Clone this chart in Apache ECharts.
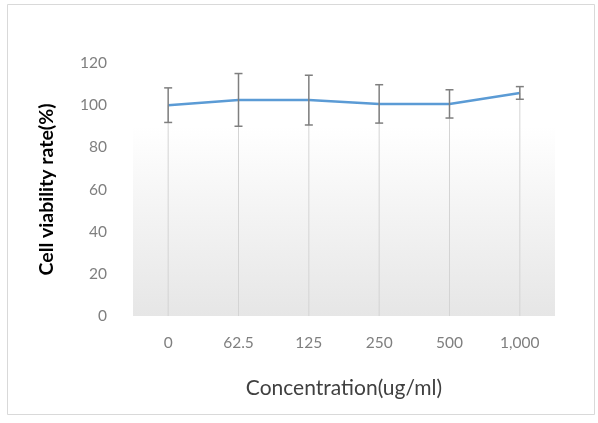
<!DOCTYPE html>
<html>
<head>
<meta charset="utf-8">
<script src="https://cdn.jsdelivr.net/npm/echarts@6/dist/echarts.min.js"></script>
<style>
html,body{margin:0;padding:0;background:#fff;}
#c{width:598px;height:423px;}
</style>
</head>
<body>
<div id="c"></div>
<script>
const categories = ['0', '62.5', '125', '250', '500', '1,000'];
const viability = [100.0, 102.5, 102.4, 100.6, 100.6, 105.8];
const errorSD = [8.2, 12.5, 11.8, 9.1, 6.7, 3.0];
const yTicks = [0, 20, 40, 60, 80, 100, 120];

const chart = echarts.init(document.getElementById('c'));
const font = 'Lato, "Open Sans", sans-serif';

const errData = categories.map((c, i) => [i, viability[i] - errorSD[i], viability[i] + errorSD[i]]);
const dropData = categories.map((c, i) => [i, viability[i]]);

chart.setOption({
  animation: false,
  backgroundColor: '#fff',
  graphic: [{
    type: 'rect', left: 5, top: 2, shape: { width: 587, height: 410 },
    style: { fill: 'none', stroke: '#d9d9d9', lineWidth: 1 }, z: -1
  }],
  grid: {
    left: 133, right: 43, top: 63, bottom: 107,
    show: true, borderWidth: 0,
    backgroundColor: new echarts.graphic.LinearGradient(0, 0, 0, 1, [
      { offset: 0, color: '#ffffff' },
      { offset: 0.25, color: '#ffffff' },
      { offset: 1, color: '#e6e6e6' }
    ])
  },
  xAxis: {
    type: 'category',
    data: categories,
    boundaryGap: true,
    axisLine: { show: false },
    axisTick: { show: false },
    axisLabel: { color: '#7f7f7f', fontSize: 15.5, fontFamily: font, margin: 19 },
    name: 'Concentration(ug/ml)',
    nameLocation: 'middle',
    nameGap: 62,
    nameTextStyle: { color: '#404040', fontSize: 21, fontFamily: font }
  },
  yAxis: {
    type: 'value',
    min: yTicks[0], max: yTicks[yTicks.length - 1], interval: 20,
    splitLine: { show: false },
    axisLine: { show: false },
    axisTick: { show: false },
    axisLabel: { color: '#7f7f7f', fontSize: 15.5, fontFamily: font, margin: 26 },
    name: 'Cell viability rate(%)',
    nameLocation: 'middle',
    nameGap: 76,
    nameTextStyle: { color: '#000', fontSize: 19.5, fontWeight: 'bold', fontFamily: font }
  },
  series: [
    {
      type: 'custom',
      data: dropData,
      z: 1,
      renderItem: function (params, api) {
        const top = api.coord([api.value(0), api.value(1)]);
        const bot = api.coord([api.value(0), 0]);
        return {
          type: 'line',
          shape: { x1: top[0], y1: top[1], x2: bot[0], y2: bot[1] },
          style: { stroke: '#d4d4d4', lineWidth: 1 }
        };
      }
    },
    {
      type: 'line',
      data: viability,
      showSymbol: false,
      symbol: 'none',
      z: 3,
      lineStyle: { color: '#5b9bd5', width: 2.5 }
    },
    {
      type: 'custom',
      data: errData,
      z: 4,
      renderItem: function (params, api) {
        const lo = api.coord([api.value(0), api.value(1)]);
        const hi = api.coord([api.value(0), api.value(2)]);
        const w = 4;
        const st = { stroke: '#7f7f7f', lineWidth: 1.5 };
        return {
          type: 'group',
          children: [
            { type: 'line', shape: { x1: hi[0], y1: hi[1], x2: lo[0], y2: lo[1] }, style: st },
            { type: 'line', shape: { x1: hi[0] - w, y1: hi[1], x2: hi[0] + w, y2: hi[1] }, style: st },
            { type: 'line', shape: { x1: lo[0] - w, y1: lo[1], x2: lo[0] + w, y2: lo[1] }, style: st }
          ]
        };
      }
    }
  ]
});
</script>
</body>
</html>
